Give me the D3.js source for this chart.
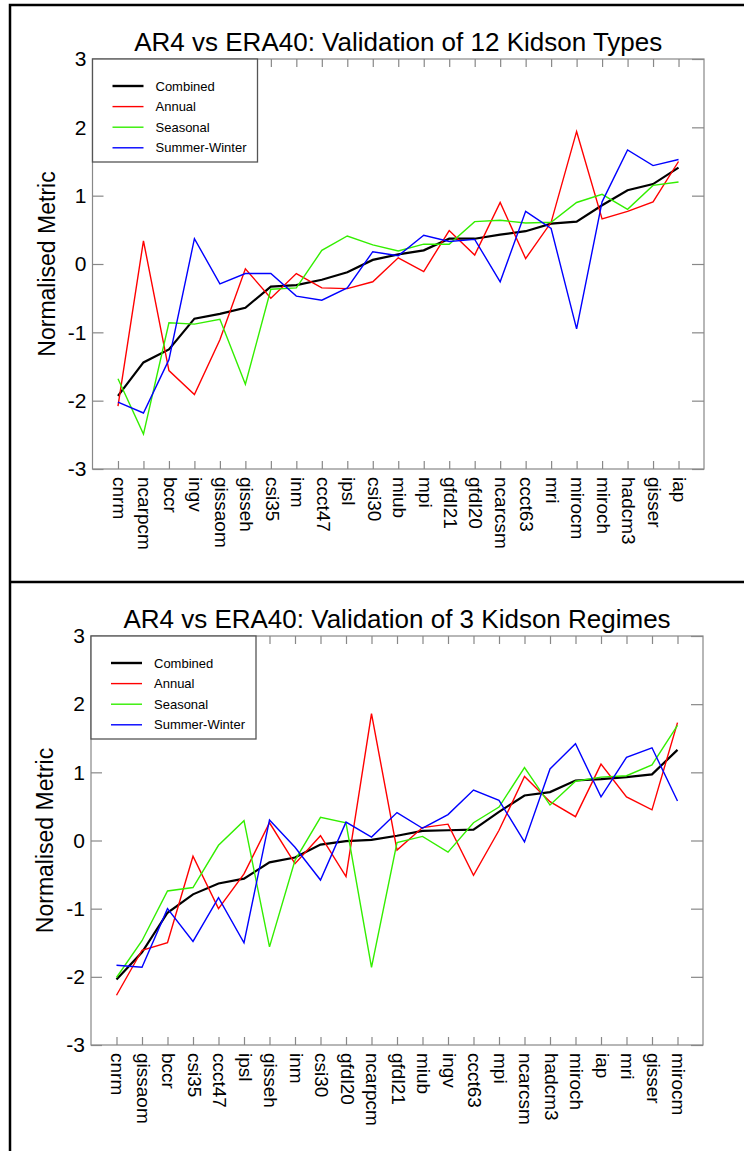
<!DOCTYPE html>
<html>
<head>
<meta charset="utf-8">
<script src="https://cdn.jsdelivr.net/npm/d3@7"></script>
<style>
  html, body { margin: 0; padding: 0; background: #fff; }
  svg { display: block; font-family: "Liberation Sans", Arial, Helvetica, sans-serif; }
</style>
</head>
<body>
<svg id="chart" width="744" height="1151"></svg>
<script>
// ---------- Data ----------
const seriesNames = ["Combined", "Annual", "Seasonal", "Summer-Winter"];
const seriesColors = ["#000000", "#ff0000", "#33ee00", "#0000ff"];
const yTicks = [-3, -2, -1, 0, 1, 2, 3];

// Panel 1: 12 Kidson Types
const title1 = "AR4 vs ERA40: Validation of 12 Kidson Types";
const models1 = ["cnrm","ncarpcm","bccr","ingv","gissaom","gisseh","csi35","inm","ccct47","ipsl","csi30","miub","mpi","gfdl21","gfdl20","ncarcsm","ccct63","mri","mirocm","miroch","hadcm3","gisser","iap"];
const combined1 = [-1.93,-1.44,-1.25,-0.80,-0.73,-0.64,-0.33,-0.31,-0.23,-0.12,0.06,0.14,0.20,0.37,0.37,0.43,0.48,0.59,0.62,0.86,1.08,1.17,1.41];
const annual1   = [-2.08,0.34,-1.56,-1.91,-1.11,-0.07,-0.50,-0.14,-0.35,-0.36,-0.26,0.09,-0.11,0.49,0.13,0.90,0.08,0.61,1.94,0.66,0.77,0.91,1.50];
const seasonal1 = [-1.68,-2.49,-0.86,-0.88,-0.81,-1.76,-0.37,-0.35,0.20,0.41,0.28,0.19,0.29,0.29,0.62,0.64,0.60,0.61,0.90,1.02,0.80,1.15,1.20];
const sumwin1   = [-2.02,-2.18,-1.40,0.37,-0.29,-0.14,-0.14,-0.47,-0.53,-0.35,0.18,0.12,0.42,0.33,0.36,-0.26,0.77,0.52,-0.95,0.91,1.67,1.44,1.53];

// Panel 2: 3 Kidson Regimes
const title2 = "AR4 vs ERA40: Validation of 3 Kidson Regimes";
const models2 = ["cnrm","gissaom","bccr","csi35","ccct47","ipsl","gisseh","inm","csi30","gfdl20","ncarpcm","gfdl21","miub","ingv","ccct63","mpi","ncarcsm","hadcm3","miroch","iap","mri","gisser","mirocm"];
const combined2 = [-2.04,-1.64,-1.06,-0.79,-0.63,-0.56,-0.32,-0.25,-0.06,-0.01,0.01,0.07,0.14,0.15,0.16,0.42,0.66,0.71,0.88,0.90,0.93,0.97,1.33];
const annual2   = [-2.27,-1.61,-1.50,-0.23,-1.00,-0.49,0.26,-0.34,0.07,-0.53,1.86,-0.14,0.19,0.24,-0.51,0.15,0.94,0.57,0.35,1.12,0.64,0.45,1.73];
const seasonal2 = [-2.01,-1.47,-0.74,-0.69,-0.07,0.29,-1.56,-0.29,0.34,0.26,-1.86,-0.03,0.06,-0.17,0.26,0.49,1.07,0.52,0.87,0.93,0.95,1.11,1.69];
const sumwin2   = [-1.83,-1.86,-1.00,-1.48,-0.84,-1.50,0.30,-0.10,-0.58,0.27,0.05,0.41,0.18,0.38,0.74,0.59,-0.02,1.05,1.42,0.64,1.22,1.36,0.58];

const yLabel = "Normalised Metric";

// ---------- Drawing ----------
const svg = d3.select("#chart");

// outer frame
svg.append("path")
  .attr("d", "M10,1151 V5 H744")
  .attr("fill", "none").attr("stroke", "#000").attr("stroke-width", 2.5);
svg.append("line")
  .attr("x1", 10).attr("x2", 744).attr("y1", 582).attr("y2", 582)
  .attr("stroke", "#000").attr("stroke-width", 2.5);

function drawPanel(cfg) {
  const { left, right, top, bottom, title, models, series } = cfg;
  const g = svg.append("g");
  const n = models.length;
  const x = d3.scaleLinear().domain([-1, n]).range([left, right]);
  const y = d3.scaleLinear().domain([-3, 3]).range([bottom, top]);
  const axisColor = "#888";

  // title
  g.append("text")
    .attr("x", (left + right) / 2).attr("y", top - 8)
    .attr("text-anchor", "middle")
    .attr("font-size", 26)
    .attr("fill", "#000")
    .text(title);

  // frame
  g.append("rect")
    .attr("x", left).attr("y", top)
    .attr("width", right - left).attr("height", bottom - top)
    .attr("fill", "none").attr("stroke", axisColor).attr("stroke-width", 1.2);

  // left y axis (ticks inward)
  const yAxisL = d3.axisLeft(y).tickValues(yTicks).tickSize(-11).tickPadding(6).tickFormat(d => String(d));
  const gyl = g.append("g").attr("transform", `translate(${left},0)`).call(yAxisL);
  gyl.select(".domain").remove();
  gyl.selectAll(".tick line").attr("stroke", axisColor).attr("stroke-width", 1.2);
  gyl.selectAll(".tick text").attr("font-size", 21).attr("fill", "#000").attr("font-family", "Liberation Sans, Arial, sans-serif");

  // right y axis (ticks inward)
  const yAxisR = d3.axisRight(y).tickValues(yTicks).tickSize(-12).tickFormat("");
  const gyr = g.append("g").attr("transform", `translate(${right},0)`).call(yAxisR);
  gyr.select(".domain").remove();
  gyr.selectAll(".tick line").attr("stroke", axisColor).attr("stroke-width", 1.2);

  // top x axis ticks
  const idx = d3.range(n);
  const xAxisT = d3.axisTop(x).tickValues(idx).tickSize(-8).tickFormat("");
  const gxt = g.append("g").attr("transform", `translate(0,${top})`).call(xAxisT);
  gxt.select(".domain").remove();
  gxt.selectAll(".tick line").attr("stroke", axisColor).attr("stroke-width", 1.2);

  // bottom x axis ticks + rotated labels
  const xAxisB = d3.axisBottom(x).tickValues(idx).tickSize(-8).tickFormat(i => models[i]);
  const gxb = g.append("g").attr("transform", `translate(0,${bottom})`).call(xAxisB);
  gxb.select(".domain").remove();
  gxb.selectAll(".tick line").attr("stroke", axisColor).attr("stroke-width", 1.2);
  gxb.selectAll(".tick text")
    .attr("font-size", 19).attr("fill", "#000")
    .attr("font-family", "Liberation Sans, Arial, sans-serif")
    .attr("text-anchor", "start")
    .attr("transform", "rotate(90)")
    .attr("x", 8).attr("y", 0).attr("dy", "0.3em");

  // y label
  g.append("text")
    .attr("transform", `translate(${left - 38},${(top + bottom) / 2}) rotate(-90)`)
    .attr("text-anchor", "middle")
    .attr("font-size", 23)
    .attr("fill", "#000")
    .text(yLabel);

  // lines
  const line = d3.line().x((d, i) => x(i)).y(d => y(d));
  series.forEach((vals, k) => {
    g.append("path")
      .datum(vals)
      .attr("d", line)
      .attr("fill", "none")
      .attr("stroke", seriesColors[k])
      .attr("stroke-width", k === 0 ? 2.2 : 1.4)
      .attr("stroke-linejoin", "miter");
  });

  // legend
  const lg = g.append("g");
  lg.append("rect")
    .attr("x", left).attr("y", top)
    .attr("width", 165).attr("height", 103)
    .attr("fill", "#fff").attr("stroke", "#555").attr("stroke-width", 1.3);
  seriesNames.forEach((name, k) => {
    const yy = top + 27 + k * 20.6;
    lg.append("line")
      .attr("x1", left + 20).attr("x2", left + 51)
      .attr("y1", yy).attr("y2", yy)
      .attr("stroke", seriesColors[k]).attr("stroke-width", k === 0 ? 2.4 : 1.4);
    lg.append("text")
      .attr("x", left + 63).attr("y", yy).attr("dy", "0.35em")
      .attr("font-size", 13).attr("fill", "#000")
      .text(name);
  });
}

drawPanel({
  left: 92.5, right: 704, top: 59, bottom: 469,
  title: title1, models: models1,
  series: [combined1, annual1, seasonal1, sumwin1]
});
drawPanel({
  left: 91, right: 703, top: 636, bottom: 1045,
  title: title2, models: models2,
  series: [combined2, annual2, seasonal2, sumwin2]
});
</script>
</body>
</html>
